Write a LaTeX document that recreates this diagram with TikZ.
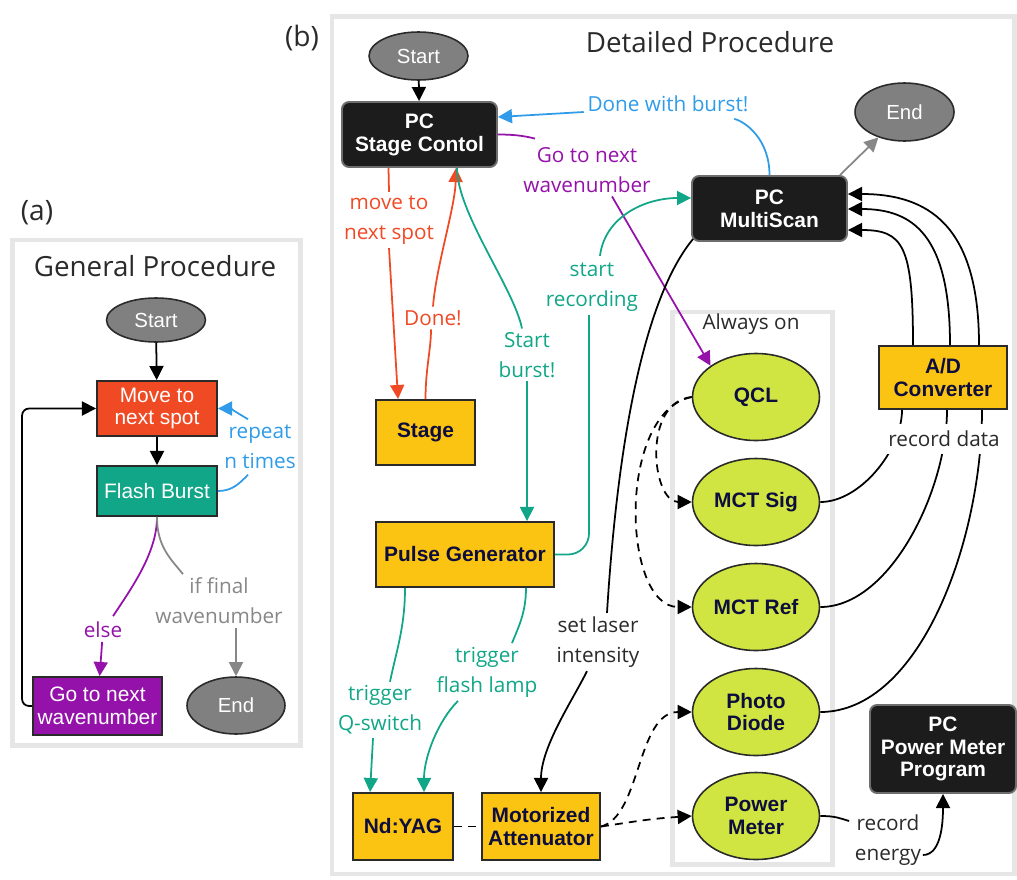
\documentclass[tikz,border=0pt]{standalone}
\usepackage{fontspec}
\setmainfont{Liberation Sans}
\newfontfamily\lblfont{Open Sans}
\usepackage{tikz}
\usetikzlibrary{shapes,calc,arrows.meta}

\definecolor{cred}{HTML}{F04A24}
\definecolor{cteal}{HTML}{10A687}
\definecolor{cpurple}{HTML}{9412A9}
\definecolor{cblue}{HTML}{2F9BE9}
\definecolor{cgray}{HTML}{878787}
\definecolor{cyellow}{HTML}{FBC412}
\definecolor{cgreen}{HTML}{D0E541}
\definecolor{cnavy}{HTML}{0E0E3E}
\definecolor{cpc}{HTML}{1C1C1C}
\definecolor{cpcedge}{HTML}{6E6E6E}
\definecolor{cframe}{HTML}{E6E6E6}
\definecolor{ctext}{HTML}{2A2A2A}

\tikzset{
	conn/.style={line width=1pt},
	longdash/.style={dash pattern=on 4.5pt off 3.5pt},
	panelframe/.style={draw=cframe, line width=2.8pt}
}
\tikzstyle{box}=[rectangle, draw=ctext, line width=1.1pt, inner sep=0pt, align=center, font=\fontsize{11.9}{13}\selectfont]
\tikzstyle{flowbox}=[box, text=white]
\tikzstyle{device}=[box, fill=cyellow, text=cnavy, font=\fontsize{11.9}{13}\selectfont\bfseries]
\tikzstyle{pcbox}=[box, rounded corners=4pt, fill=cpc, draw=cpcedge, text=white, font=\fontsize{11.9}{13}\selectfont\bfseries]
\tikzstyle{terminal}=[ellipse, draw=ctext, line width=0.9pt, fill=black!50, text=white, inner sep=0pt, font=\fontsize{11.6}{13}\selectfont]
\tikzstyle{sensor}=[ellipse, draw=ctext, line width=0.9pt, fill=cgreen, text=cnavy, inner sep=0pt, align=center, minimum width=2.54cm, minimum height=1.74cm, font=\fontsize{11.9}{13}\selectfont\bfseries]
\tikzstyle{lbl}=[inner sep=2pt, align=center, font=\lblfont\fontsize{11.8}{17}\selectfont]
\tikzstyle{heading}=[inner sep=0pt, text=ctext, font=\lblfont\fontsize{15.8}{18}\selectfont]

\begin{document}
\begin{tikzpicture}[x=0.02cm, y=-0.02cm, >={Triangle[length=8pt,width=8pt]}]
	\useasboundingbox (0,0) rectangle (1017,879);
	\draw[panelframe] (12.5,240) rectangle (300.5,745.5);
	\draw[panelframe] (332,16.5) rectangle (1014.5,874);
	\draw[panelframe] (672.5,312) rectangle (832.5,864.5);

	\node[heading, font=\lblfont\fontsize{16}{18}\selectfont] (aTag) at (37,213) {(a)};
	\node[heading] (aTitle) at (155,266) {General Procedure};
	\node[heading, font=\lblfont\fontsize{16}{18}\selectfont] (bTag) at (302,38) {(b)};
	\node[heading] (bTitle) at (710,42) {Detailed Procedure};
	\node[lbl, text=ctext] (onTitle) at (751,324) {Always on};

	% (a) general procedure
	\node[terminal, minimum width=1.98cm, minimum height=0.88cm] (aStart) at (156,320) {Start};
	\node[flowbox, fill=cred, minimum width=2.4cm, minimum height=1.1cm] (aMove) at (157,408.5) {Move to\\next spot};
	\node[flowbox, fill=cteal, minimum width=2.4cm, minimum height=1cm] (aFlash) at (157,491) {Flash Burst};
	\node[flowbox, fill=cpurple, minimum width=2.58cm, minimum height=1.16cm] (aNext) at (97.5,706) {Go to next\\wavenumber};
	\node[terminal, minimum width=1.96cm, minimum height=1.14cm] (aEnd) at (236,705.5) {End};

	\node[lbl, text=cblue] (aRepeat) at (260,447) {repeat\\n times};
	\node[lbl, text=cpurple] (aElse) at (103,630) {else};
	\node[lbl, text=cgray] (aFinal) at (219,601) {if final\\wavenumber};

	\draw[conn,->] (aStart) -- (aMove);
	\draw[conn,->] (aMove) -- (aFlash);
	\draw[conn,->,rounded corners=4pt] (aNext.west) -- ++(-10,0) |- (aMove.west);
	\draw[conn,cblue] (aFlash.east) .. controls +(15,0) and +(-8,8) .. ($(aRepeat.south)+(-12,2)$);
	\draw[conn,->,cblue] ($(aRepeat.north)+(-12,-2)$) .. controls +(-10,-6) and +(12,0) .. (aMove.east);
	\draw[conn,cpurple] (aFlash.south) .. controls +(0,35) and +(20,-30) .. ($(aElse.north)+(10,-2)$);
	\draw[conn,->,cpurple] (aElse) -- (aNext);
	\draw[conn,cgray] (aFlash.south) .. controls +(0,30) and +(-12,-15) .. ($(aFinal.north)+(-36,0)$);
	\draw[conn,->,cgray] (aFinal.south -| aEnd) -- (aEnd);

	% (b) detailed procedure
	\node[terminal, minimum width=1.98cm, minimum height=0.96cm] (bStart) at (418.5,56) {Start};
	\node[pcbox, minimum width=3.1cm, minimum height=1.3cm] (stagectl) at (419.5,134.5) {PC\\Stage Contol};
	\node[pcbox, minimum width=3.1cm, minimum height=1.3cm] (multiscan) at (769.5,208.5) {PC\\MultiScan};
	\node[terminal, minimum width=1.98cm, minimum height=1.16cm] (bEnd) at (904.5,112) {End};
	\node[device, minimum width=1.98cm, minimum height=1.3cm] (stage) at (425.5,432.5) {Stage};
	\node[device, minimum width=3.56cm, minimum height=1.3cm] (pulsegen) at (465,554.5) {Pulse Generator};
	\node[device, minimum width=2cm, minimum height=1.34cm] (ndyag) at (403,826.5) {Nd:YAG};
	\node[device, minimum width=2.36cm, minimum height=1.34cm] (atten) at (541,826.5) {Motorized\\Attenuator};
	\node[device, minimum width=2.56cm, minimum height=1.26cm] (adconv) at (943,377.5) {A/D\\Converter};
	\node[pcbox, minimum width=2.92cm, minimum height=1.76cm] (pmprog) at (943,749) {PC\\Power Meter\\Program};

	\node[sensor] (qcl) at (756,397) {QCL};
	\node[sensor] (mctsig) at (756,502) {MCT Sig};
	\node[sensor] (mctref) at (756,607) {MCT Ref};
	\node[sensor] (diode) at (756,712) {Photo\\Diode};
	\node[sensor] (pmeter) at (756,816) {Power\\Meter};

	\node[lbl, text=cblue] (lDone) at (668,104) {Done with burst!};
	\node[lbl, text=cpurple] (lNext) at (587,170) {Go to next\\wavenumber};
	\node[lbl, text=cred] (lMove) at (389,220) {move to\\next spot};
	\node[lbl, text=cred] (lDoneS) at (433,318) {Done!};
	\node[lbl, text=cteal] (lBurst) at (527,355) {Start\\burst!};
	\node[lbl, text=cteal] (lRec) at (592,287) {start\\recording};
	\node[lbl, text=ctext] (lLaser) at (598,642) {set laser\\intensity};
	\node[lbl, text=cteal] (lQsw) at (380,710) {trigger\\Q-switch};
	\node[lbl, text=cteal] (lFlash) at (487,672) {trigger\\flash lamp};
	\node[lbl, text=ctext] (lEnergy) at (888,840) {record\\energy};

	\draw[conn,->] (bStart) -- (stagectl);
	\draw[conn,->,cgray] ($(multiscan.north east)+(-8,0)$) -- (bEnd);
	\draw[conn,cblue] (multiscan.north) .. controls +(0,-35) and +(12,3) .. ($(lDone.south east)+(-18,3)$);
	\draw[conn,->,cblue] ($(lDone.west)+(0,8)$) -- ($(stagectl.east)+(0,-17.5)$);
	\draw[conn,cpurple] (stagectl.east) .. controls +(15,0) and +(-12,-3) .. ($(lNext.north)+(-52,-5)$);
	\draw[conn,->,cpurple] ($(lNext.south)+(25,0)$) -- (qcl.north west);
	\draw[conn,cred] ($(stagectl.south)+(-31,0)$) -- (lMove.north);
	\draw[conn,->,cred] (lMove.south) -- ($(stage.north west)+(23,0)$);
	\draw[conn,cred] (stage.north) .. controls +(0,-30) and +(0,20) .. ($(lDoneS.south)+(-2,0)$);
	\draw[conn,->,cred] (lDoneS.north) .. controls +(3,-40) and +(-1,40) .. ($(stagectl.south)+(36.5,0)$);
	\draw[conn,cteal] ($(stagectl.south)+(37.5,0)$) .. controls +(0,45) and +(-8,-40) .. ($(lBurst.north)+(-5,0)$);
	\draw[conn,->,cteal] (lBurst.south) -- (lBurst.south |- pulsegen.north);
	\draw[conn,cteal,rounded corners=12pt] (pulsegen.east) -| ($(lRec.south)+(-3,0)$);
	\draw[conn,->,cteal] ($(lRec.north)+(8,-3)$) .. controls +(5,-40) and +(-45,0) .. ($(multiscan.west)+(0,-10.5)$);
	\draw[conn] ($(multiscan.south west)+(2,-3)$) .. controls +(-57,69) and +(8,-130) .. ($(lLaser.north)+(9,0)$);
	\draw[conn,->] ($(lLaser.south)+(-11,0)$) .. controls +(-15,30) and +(0,-45) .. (atten.north);
	\draw[conn,cteal] ($(pulsegen.south)+(-60,0)$) .. controls +(0,40) and +(6,-30) .. ($(lQsw.north)+(10,0)$);
	\draw[conn,->,cteal] ($(lQsw.south)+(-7,0)$) -- ($(ndyag.north west)+(18,0)$);
	\draw[conn,cteal] ($(pulsegen.south)+(61,0)$) .. controls +(0,25) and +(6,-15) .. ($(lFlash.north)+(25,0)$);
	\draw[conn,->,cteal] ($(lFlash.south)+(-29,0)$) .. controls +(-20,20) and +(0,-35) .. ($(ndyag.north)+(21,0)$);

	\draw[conn,longdash] (ndyag.east) -- (atten.west);
	\draw[conn,longdash,->] (atten.east) .. controls +(35,-5) and +(-45,3) .. (pmeter.west);
	\draw[conn,longdash,->] (atten.east) .. controls +(40,-10) and +(-55,0) .. (diode.west);
	\draw[conn,longdash,->] (qcl.west) .. controls +(-50,5) and +(-40,0) .. (mctsig.west);
	\draw[conn,longdash,->] (qcl.west) .. controls +(-75,15) and +(-70,0) .. (mctref.west);

	\draw[conn] (mctsig.east) .. controls +(40,0) and +(0,40) .. ($(adconv.south)+(-41,0)$);
	\draw[conn] (mctref.east) .. controls +(70,0) and +(0,80) .. ($(adconv.south)+(4,0)$);
	\draw[conn] (diode.east) .. controls +(100,0) and +(0,130) .. ($(adconv.south)+(39,0)$);
	\draw[conn,->] ($(adconv.north)+(-30,0)$) .. controls +(0,-100) and +(55,0) .. ($(multiscan.east)+(0,21.5)$);
	\draw[conn,->] ($(adconv.north)+(7,0)$) .. controls +(0,-110) and +(65,0) .. ($(multiscan.east)+(0,0.5)$);
	\draw[conn,->] ($(adconv.north)+(36,0)$) .. controls +(0,-120) and +(80,0) .. ($(multiscan.east)+(0,-14.5)$);
	\node[lbl, text=ctext, fill=white, inner sep=4pt] (lData) at (944,439) {record data};

	\draw[conn] (pmeter.east) .. controls +(15,0) and +(-10,-3) .. ($(lEnergy.west)+(-2,-19)$);
	\draw[conn,->] ($(lEnergy.east)+(-2,15)$) .. controls +(18,0) and +(0,30) .. (pmprog.south);
\end{tikzpicture}
\end{document}
